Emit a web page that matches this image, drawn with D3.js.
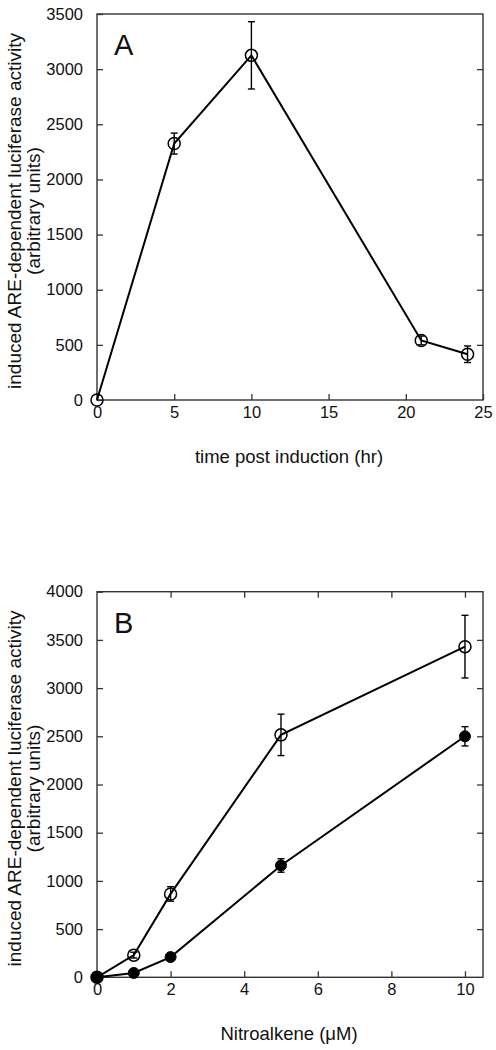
<!DOCTYPE html>
<html><head><meta charset="utf-8">
<script src="https://cdn.jsdelivr.net/npm/d3@7"></script>
<style>body{margin:0;background:#fff;} text{font-family:"Liberation Sans",Arial,Helvetica,sans-serif;fill:#111;}</style>
</head><body>
<svg id="c" width="496" height="1050"></svg>
<script>
// Panel A data
const timeHr = [0, 5, 10, 21, 24];
const activityA = [0, 2325, 3125, 540, 415];
const errorA = [0, 95, 305, 40, 75];
const ticksAx = [0, 5, 10, 15, 20, 25];
const ticksAy = [0, 500, 1000, 1500, 2000, 2500, 3000, 3500];

// Panel B data
const nitroUM = [0, 1, 2, 5, 10];
const activityOpen = [0, 230, 865, 2515, 3430];
const errorOpen = [0, 30, 75, 215, 325];
const activityFilled = [0, 45, 210, 1160, 2500];
const errorFilled = [0, 15, 20, 70, 100];
const ticksBx = [0, 2, 4, 6, 8, 10];
const ticksBy = [0, 500, 1000, 1500, 2000, 2500, 3000, 3500, 4000];

const svg = d3.select("#c");
const L = 97, R = 483;

function panel(o) {
  const g = svg.append("g");
  const x = d3.scaleLinear().domain(o.xd).range([L, R]);
  const y = d3.scaleLinear().domain(o.yd).range([o.bottom, o.top]);
  const axStyle = sel => {
    sel.select(".domain").remove();
    sel.selectAll(".tick line").attr("stroke", "#333").attr("stroke-width", 1.3);
    sel.selectAll(".tick text").style("font-size", "16.5px").attr("fill", "#111");
  };
  g.append("g").attr("transform", `translate(0,${o.bottom})`)
    .call(d3.axisBottom(x).tickValues(o.xt).tickSize(-6).tickPadding(6).tickFormat(d3.format("d"))).call(axStyle);
  if (o.topTicks) {
    g.append("g").attr("transform", `translate(0,${o.top})`)
      .call(d3.axisTop(x).tickValues(o.xt.filter(v => v > 0)).tickSize(-6).tickFormat("")).call(axStyle);
  }
  g.append("g").attr("transform", `translate(${L},0)`)
    .call(d3.axisLeft(y).tickValues(o.yt).tickSize(-6).tickPadding(14).tickFormat(d3.format("d"))).call(axStyle);
  g.append("g").attr("transform", `translate(${R},0)`)
    .call(d3.axisRight(y).tickValues(o.yt.filter(v => v > 0 && v < o.yd[1])).tickSize(-6).tickFormat("")).call(axStyle);
  g.append("rect").attr("x", L).attr("y", o.top).attr("width", R - L).attr("height", o.bottom - o.top)
    .attr("fill", "none").attr("stroke", "#333").attr("stroke-width", 1.4);

  o.series.forEach(s => {
    const pts = o.xv.map((xv, i) => ({x: xv, y: s.y[i], e: s.e[i]}));
    g.append("path").datum(pts)
      .attr("d", d3.line().x(d => x(d.x)).y(d => y(d.y)))
      .attr("fill", "none").attr("stroke", "#000").attr("stroke-width", 2);
    const eb = g.append("g").selectAll("g").data(pts.filter(d => d.e > 0)).join("g");
    eb.append("line").attr("x1", d => x(d.x)).attr("x2", d => x(d.x))
      .attr("y1", d => y(d.y - d.e)).attr("y2", d => y(d.y + d.e)).attr("stroke", "#000").attr("stroke-width", 1.4);
    [-1, 1].forEach(sg => {
      eb.append("line").attr("x1", d => x(d.x) - 3.5).attr("x2", d => x(d.x) + 3.5)
        .attr("y1", d => y(d.y + sg * d.e)).attr("y2", d => y(d.y + sg * d.e)).attr("stroke", "#000").attr("stroke-width", 1.4);
    });
  });
  o.series.forEach(s => {
    const pts = o.xv.map((xv, i) => ({x: xv, y: s.y[i]}));
    g.append("g").selectAll("circle").data(pts).join("circle")
      .attr("cx", d => x(d.x)).attr("cy", d => y(d.y))
      .attr("r", s.filled ? 5.5 : 6)
      .attr("fill", s.filled ? "#000" : "none")
      .attr("stroke", "#000").attr("stroke-width", s.filled ? 1 : 1.5);
  });

  g.append("text").attr("x", 114).attr("y", o.top + 41).style("font-size", "29px").text(o.letter);
  const cy = (o.top + o.bottom) / 2 + 4;
  g.append("text").attr("transform", `translate(21,${cy}) rotate(-90)`).attr("text-anchor", "middle")
    .style("font-size", "19px").text("induced ARE-dependent luciferase activity");
  g.append("text").attr("transform", `translate(40,${cy}) rotate(-90)`).attr("text-anchor", "middle")
    .style("font-size", "19px").text("(arbitrary units)");
  g.append("text").attr("x", 289).attr("y", o.titleY).attr("text-anchor", "middle")
    .style("font-size", "18.5px").text(o.xTitle);
}

panel({top: 14, bottom: 400, xd: [0, 25], yd: [0, 3500], xt: ticksAx, yt: ticksAy, xv: timeHr,
  series: [{y: activityA, e: errorA, filled: false}], letter: "A", titleY: 463,
  xTitle: "time post induction (hr)", topTicks: false});

panel({top: 591.7, bottom: 977.3, xd: [0, 10.49], yd: [0, 4000], xt: ticksBx, yt: ticksBy, xv: nitroUM,
  series: [{y: activityOpen, e: errorOpen, filled: false}, {y: activityFilled, e: errorFilled, filled: true}],
  letter: "B", titleY: 1040, xTitle: "Nitroalkene (\u03BCM)", topTicks: true});
</script>
</body></html>
